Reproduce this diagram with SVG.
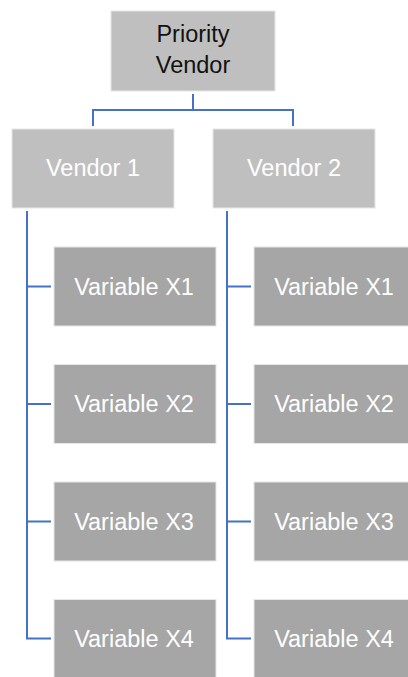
<svg xmlns="http://www.w3.org/2000/svg" width="408" height="677" viewBox="0 0 408 677">
<style>
.top{fill:#BFBFBF;stroke:#E6E6E6;stroke-width:1}
.v{fill:#BFBFBF;stroke:#E6E6E6;stroke-width:1}
.x{fill:#A6A6A6;stroke:#E6E6E6;stroke-width:1}
.t{font-family:"Liberation Sans",Arial,sans-serif;font-size:23.5px;text-anchor:middle}
.w{fill:#FFFFFF}
.k{fill:#111111}
.c{fill:none;stroke:#4472C4;stroke-width:2}
</style>
<rect width="408" height="677" fill="#FFFFFF"/>
<g id="connectors">
<path class="c" d="M193,94 V110 M93,126 V110 H293 V126"/>
<path class="c" d="M27,211 V638.5 H51 M27,286.5 H51 M27,404 H51 M27,521.5 H51"/>
<path class="c" d="M227,211 V638.5 H251 M227,286.5 H251 M227,404 H251 M227,521.5 H251"/>
</g>
<g id="priority-vendor">
<rect class="top" x="111" y="11" width="164" height="80"/>
<text class="t k" x="193" y="41.5">Priority</text>
<text class="t k" x="193" y="73">Vendor</text>
</g>
<g id="vendor-1">
<rect class="v" x="12" y="129" width="162" height="79"/>
<text class="t w" x="93" y="175.5">Vendor 1</text>
</g>
<g id="vendor-2">
<rect class="v" x="213" y="129" width="162" height="79"/>
<text class="t w" x="294" y="175.5">Vendor 2</text>
</g>
<g id="v1-x1"><rect class="x" x="54" y="247" width="162" height="79"/><text class="t w" x="134" y="294.5">Variable X1</text></g>
<g id="v1-x2"><rect class="x" x="54" y="364.5" width="162" height="79"/><text class="t w" x="134" y="412">Variable X2</text></g>
<g id="v1-x3"><rect class="x" x="54" y="482" width="162" height="79"/><text class="t w" x="134" y="529.5">Variable X3</text></g>
<g id="v1-x4"><rect class="x" x="54" y="599.5" width="162" height="79"/><text class="t w" x="134" y="647">Variable X4</text></g>
<g id="v2-x1"><rect class="x" x="254" y="247" width="162" height="79"/><text class="t w" x="334" y="294.5">Variable X1</text></g>
<g id="v2-x2"><rect class="x" x="254" y="364.5" width="162" height="79"/><text class="t w" x="334" y="412">Variable X2</text></g>
<g id="v2-x3"><rect class="x" x="254" y="482" width="162" height="79"/><text class="t w" x="334" y="529.5">Variable X3</text></g>
<g id="v2-x4"><rect class="x" x="254" y="599.5" width="162" height="79"/><text class="t w" x="334" y="647">Variable X4</text></g>
</svg>
